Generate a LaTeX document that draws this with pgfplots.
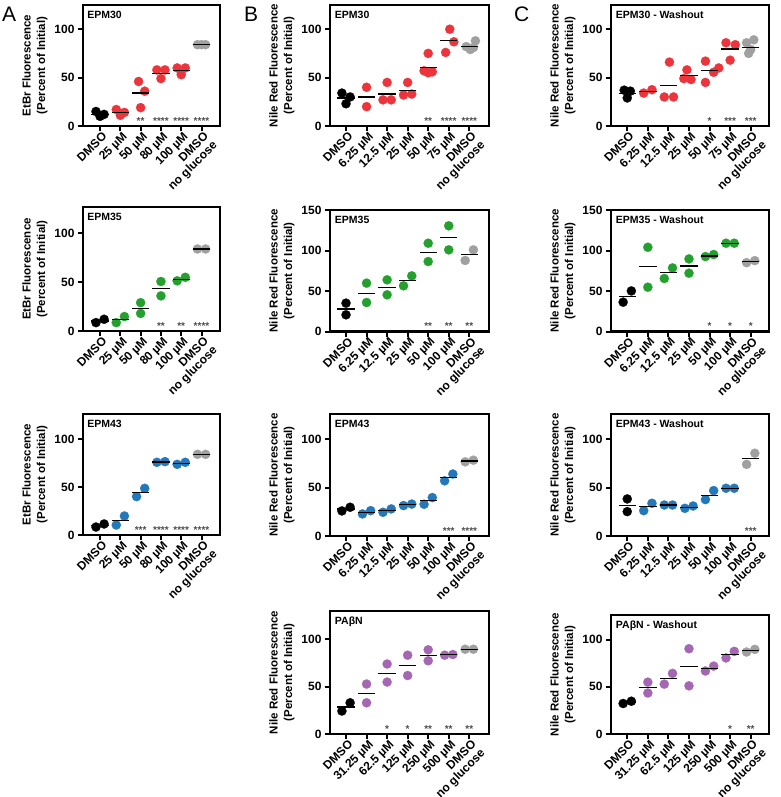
\documentclass[border=0pt]{standalone}
\usepackage{fontspec}
\setmainfont{Liberation Sans}
\usepackage{pgfplots}
\pgfplotsset{compat=1.18}

\definecolor{cred}{RGB}{235,52,60}
\definecolor{cgreen}{RGB}{36,160,46}
\definecolor{cblue}{RGB}{35,120,185}
\definecolor{cpurple}{RGB}{165,102,180}
\definecolor{cgray}{RGB}{160,160,160}

\newcommand\tk{\fontsize{12}{12.5}\selectfont\bfseries}
\newcommand\lb{\fontsize{11.5}{14.5}\selectfont\bfseries}
\newcommand\ttl{\fontsize{10.5}{12}\selectfont\bfseries}
\newcommand\st{\fontsize{10}{12}\selectfont\bfseries}

\pgfplotsset{
  panel/.style={
    scale only axis, anchor=north west,
    axis line style={line width=2.2pt},
    xtick pos=bottom, ytick pos=left,
    tick align=outside, major tick length=5pt,
    tick style={line width=2pt, black},
    minor tick num=0,
    tick label style={font=\tk},
    /pgf/number format/assume math mode=true,
    xticklabel style={rotate=45, anchor=north east, align=right, inner sep=1pt, xshift=2pt},
    ylabel style={align=center, font=\lb},
    ymin=0, ytick={0,50,100},
    clip=false,
  },
  colA/.style={width=137pt, xmin=-0.84, xmax=5.91, xtick={0,...,5},
    xticklabels={DMSO, 25 µM, 50 µM, 80 µM, 100 µM, {DMSO\\no glucose}},
    ylabel={EtBr Fluorescence\\(Percent of Initial)}},
  colB/.style={width=159pt, xmin=-0.78, xmax=6.96, xtick={0,...,6},
    ylabel={Nile Red Fluorescence\\(Percent of Initial)}},
  colC/.style={width=158pt, xmin=-0.79, xmax=6.89, xtick={0,...,6},
    ylabel={Nile Red Fluorescence\\(Percent of Initial)}},
  labsA/.style={xticklabels={DMSO, 6.25 µM, 12.5 µM, 25 µM, 50 µM, 75 µM, {DMSO\\no glucose}}},
  labsB/.style={xticklabels={DMSO, 6.25 µM, 12.5 µM, 25 µM, 50 µM, 100 µM, {DMSO\\no glucose}}},
  labsP/.style={xticklabels={DMSO, 31.25 µM, 62.5 µM, 125 µM, 250 µM, 500 µM, {DMSO\\no glucose}}},
  dot/.style={only marks, color=#1, mark=*, mark size=4.6pt, mark options={draw=#1, fill=#1, line width=0.2pt}},
  mean/.style={only marks, color=black, mark=-, mark size=8.7pt, mark options={line width=1.3pt, draw=black}},
  stars/.style={draw=none, mark=none, nodes near coords, point meta=explicit symbolic,
    nodes near coords style={anchor=base, yshift=2pt, inner sep=0pt, font=\st, text=black!70}},
}
\newcommand\ptitle[1]{\node[anchor=north west, inner sep=0pt, font=\ttl] at (rel axis cs:0.03,0.95) {#1};}

\begin{document}
\begin{tikzpicture}
\useasboundingbox (0,0) rectangle (780pt,-797pt);
\node[anchor=north west, inner sep=0pt, font=\fontsize{21}{21}\selectfont] at (2pt,-7pt) {A};
\node[anchor=north west, inner sep=0pt, font=\fontsize{21}{21}\selectfont] at (244pt,-7pt) {B};
\node[anchor=north west, inner sep=0pt, font=\fontsize{21}{21}\selectfont] at (514pt,-7pt) {C};

% ---------- column A : EtBr ----------
\begin{axis}[panel, colA, at={(83pt,-5pt)}, height=121pt, ymax=125]
\addplot[dot=black] coordinates {(-0.2,15)(0,10)(0.2,12)};
\addplot[dot=cred] coordinates {(0.8,17)(1,11)(1.2,14) (1.9,46)(2.2,36)(2,19)
  (2.8,58)(3.2,58)(3,49) (3.8,60)(4.2,60)(4,53)};
\addplot[dot=cgray] coordinates {(4.8,84)(5,84)(5.2,84)};
\addplot[mean] coordinates {(0,12)(1,14)(2,34)(3,54.5)(4,57)(5,84)};
\addplot[stars] coordinates {(2,0)[**](3,0)[****](4,0)[****](5,0)[****]};
\ptitle{EPM30}
\end{axis}

\begin{axis}[panel, colA, at={(83pt,-207pt)}, height=124pt, ymax=127]
\addplot[dot=black] coordinates {(-0.2,8.6)(0.2,12)};
\addplot[dot=cgreen] coordinates {(0.8,8.6)(1.2,14.8) (2,29)(2,18) (3,50.7)(3,36) (3.8,51.4)(4.2,55)};
\addplot[dot=cgray] coordinates {(4.8,84)(5.2,84)};
\addplot[mean] coordinates {(0,10.3)(1,12)(2,23)(3,43.4)(4,53)(5,84)};
\addplot[stars] coordinates {(3,0)[**](4,0)[**](5,0)[****]};
\ptitle{EPM35}
\end{axis}

\begin{axis}[panel, colA, at={(83pt,-414pt)}, height=121pt, ymax=126]
\addplot[dot=black] coordinates {(-0.2,8.3)(0.2,11.5)};
\addplot[dot=cblue] coordinates {(0.8,10.4)(1.2,19.8) (1.8,40)(2.2,48.6) (2.8,75.7)(3.2,76.4) (3.8,73.6)(4.2,75.7)};
\addplot[dot=cgray] coordinates {(4.8,84)(5.2,84)};
\addplot[mean] coordinates {(0,10)(1,15.3)(2,44)(3,76)(4,74.6)(5,84)};
\addplot[stars] coordinates {(2,0)[***](3,0)[****](4,0)[****](5,0)[****]};
\ptitle{EPM43}
\end{axis}

% ---------- column B : Nile Red ----------
\begin{axis}[panel, colB, labsA, at={(330pt,-5pt)}, height=121pt, ymax=125]
\addplot[dot=black] coordinates {(-0.2,34)(0.2,30)(0,23)};
\addplot[dot=cred] coordinates {(1,40)(1,20) (2,45)(1.8,27)(2.2,27) (3,45)(2.8,32)(3.2,33)
  (4,75)(3.8,57)(4,55)(4.2,56) (5.05,100)(5.25,87)(4.85,76)};
\addplot[dot=cgray] coordinates {(6.3,88)(5.85,82)(6.05,79)(6.2,81)};
\addplot[mean] coordinates {(0,29)(1,30)(2,33)(3,37)(4,60.7)(5,88)(6,82)};
\addplot[stars] coordinates {(4,0)[**](5,0)[****](6,0)[****]};
\ptitle{EPM30}
\end{axis}

\begin{axis}[panel, colB, labsB, at={(330pt,-210pt)}, height=121.5pt, ymax=150, ytick={0,50,100,150}]
\addplot[dot=black] coordinates {(0,35)(0,20.6)};
\addplot[dot=cgreen] coordinates {(1,59.7)(1,35.8) (2,63.8)(2,45.3) (2.8,56.4)(3.2,68.7)
  (4,109)(4,86.4) (5,130.5)(5,100.8)};
\addplot[dot=cgray] coordinates {(5.8,87.7)(6.2,100.8)};
\addplot[mean] coordinates {(0,27.6)(1,47.3)(2,54.7)(3,63)(4,97.5)(5,116)(6,94.7)};
\addplot[stars] coordinates {(4,0)[**](5,0)[**](6,0)[**]};
\ptitle{EPM35}
\end{axis}

\begin{axis}[panel, colB, labsB, at={(330pt,-414pt)}, height=122pt, ymax=126]
\addplot[dot=black] coordinates {(-0.2,25.9)(0.2,29.7)};
\addplot[dot=cblue] coordinates {(0.8,22.8)(1.2,26.2) (1.8,24.5)(2.2,28) (2.8,31.4)(3.2,33)
  (3.8,32.8)(4.2,39.7) (4.8,57)(5.2,64)};
\addplot[dot=cgray] coordinates {(5.8,76.6)(6.2,78.3)};
\addplot[mean] coordinates {(0,28)(1,24.5)(2,26.2)(3,32.2)(4,36.6)(5,60.7)(6,77.4)};
\addplot[stars] coordinates {(5,0)[***](6,0)[****]};
\ptitle{EPM43}
\end{axis}

\begin{axis}[panel, colB, labsP, at={(330pt,-611pt)}, height=123pt, ymax=130]
\addplot[dot=black] coordinates {(-0.2,24.3)(0.2,33)};
\addplot[dot=cpurple] coordinates {(1,52.8)(1,33) (2,74)(2,54.9) (3,83.3)(3,61.8)
  (4,89)(4,77.4) (4.8,83.3)(5.2,84)};
\addplot[dot=cgray] coordinates {(5.8,89.6)(6.2,89.6)};
\addplot[mean] coordinates {(0,28.5)(1,42.7)(2,64.2)(3,72.6)(4,83.3)(5,83.7)(6,89.6)};
\addplot[stars] coordinates {(2,0)[*](3,0)[*](4,0)[**](5,0)[**](6,0)[**]};
\ptitle{PAβN}
\end{axis}

% ---------- column C : Nile Red washout ----------
\begin{axis}[panel, colC, labsA, at={(611pt,-5pt)}, height=121pt, ymax=125]
\addplot[dot=black] coordinates {(-0.15,37)(0.15,36)(0,29)};
\addplot[dot=cred] coordinates {(0.8,34)(1.2,37.5) (2.05,66)(1.8,30)(2.25,30) (2.9,58)(2.75,49)(3.1,48)
  (3.8,67)(3.8,45)(4.2,55.5)(4.45,60) (4.8,86)(5.25,84)(5,68)};
\addplot[dot=cgray] coordinates {(5.8,86)(6.15,89)(6,79)(5.9,75)};
\addplot[mean] coordinates {(0,33.5)(1,35.7)(2,42)(3,52)(4,57)(5,79.5)(6,81)};
\addplot[stars] coordinates {(4,0)[*](5,0)[***](6,0)[***]};
\ptitle{EPM30 - Washout}
\end{axis}

\begin{axis}[panel, colC, labsB, at={(611pt,-210pt)}, height=121.5pt, ymax=150, ytick={0,50,100,150}]
\addplot[dot=black] coordinates {(-0.2,36.2)(0.2,50.1)};
\addplot[dot=cgreen] coordinates {(1,104)(1,54.7) (1.8,65.4)(2.2,78.5) (3,89.6)(3,72)
  (3.8,92.5)(4.2,95) (4.8,109)(5.2,109)};
\addplot[dot=cgray] coordinates {(5.8,85)(6.2,87.5)};
\addplot[mean] coordinates {(0,43.2)(1,80)(2,72.7)(3,81)(4,93.3)(5,109)(6,86.6)};
\addplot[stars] coordinates {(4,0)[*](5,0)[*](6,0)[*]};
\ptitle{EPM35 - Washout}
\end{axis}

\begin{axis}[panel, colC, labsB, at={(611pt,-414pt)}, height=122pt, ymax=126]
\addplot[dot=black] coordinates {(0,38.3)(0,25.2)};
\addplot[dot=cblue] coordinates {(0.8,26.2)(1.2,33.8) (1.8,32)(2.2,32) (2.8,28.6)(3.2,31)
  (3.8,37.6)(4.2,46.9) (4.8,49.3)(5.2,49.3)};
\addplot[dot=cgray] coordinates {(5.8,74)(6.2,85.5)};
\addplot[mean] coordinates {(0,31.4)(1,30.3)(2,32)(3,29.8)(4,42)(5,49.3)(6,80)};
\addplot[stars] coordinates {(6,0)[***]};
\ptitle{EPM43 - Washout}
\end{axis}

\begin{axis}[panel, colC, labsP, at={(611pt,-615pt)}, height=119pt, ymax=126]
\addplot[dot=black] coordinates {(-0.2,32.3)(0.2,34.7)};
\addplot[dot=cpurple] coordinates {(1,54.9)(1,43.4) (1.8,52.8)(2.2,64.2) (3,90.3)(3,51)
  (3.8,66.7)(4.2,71.9) (4.8,80.5)(5.2,87.5)};
\addplot[dot=cgray] coordinates {(5.8,86.8)(6.2,89.6)};
\addplot[mean] coordinates {(0,33.5)(1,49.3)(2,59)(3,71.2)(4,69.4)(5,84)(6,88.2)};
\addplot[stars] coordinates {(5,0)[*](6,0)[**]};
\ptitle{PAβN - Washout}
\end{axis}
\end{tikzpicture}
\end{document}
